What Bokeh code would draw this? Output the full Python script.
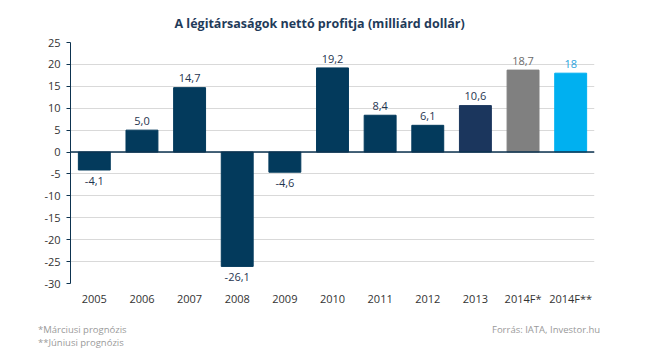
from bokeh.plotting import figure
from bokeh.models import ColumnDataSource, Span, FixedTicker, Range1d, Div
from bokeh.layouts import column
from bokeh.embed import file_html
from bokeh.resources import INLINE

categories = ["2005", "2006", "2007", "2008", "2009", "2010", "2011", "2012", "2013", "2014F*", "2014F**"]
values = [-4.1, 5.0, 14.7, -26.1, -4.6, 19.2, 8.4, 6.1, 10.6, 18.7, 18]
value_labels = ["-4,1", "5,0", "14,7", "-26,1", "-4,6", "19,2", "8,4", "6,1", "10,6", "18,7", "18"]
bar_colors = ["#033a5c"] * 8 + ["#1b365d", "#808080", "#00b0f0"]
label_colors = ["#1f3550"] * 9 + ["#6b6b6b", "#2aa3dd"]
y_ticks = [25, 20, 15, 10, 5, 0, -5, -10, -15, -20, -25, -30]

label_y = [v + 1.2 if v >= 0 else v - 1.6 for v in values]
label_base = ["bottom" if v >= 0 else "top" for v in values]

src = ColumnDataSource(dict(cat=categories, val=values, col=bar_colors,
                            lab=value_labels, ly=label_y, lcol=label_colors, base=label_base))

p = figure(x_range=categories, y_range=Range1d(-30, 25), width=645, height=310,
           output_backend="svg", toolbar_location=None,
           min_border_left=70, min_border_right=51, min_border_top=42, min_border_bottom=27)
p.outline_line_color = None
p.background_fill_color = "white"

p.title.text = "A légitársaságok nettó profitja (milliárd dollár)"
p.title.align = "left"
p.title.offset = 104
p.title.text_font = "Open Sans"
p.title.text_font_size = "12.5px"
p.title.text_font_style = "bold"
p.title.text_color = "#1f3b5a"
p.title.standoff = 21

p.vbar(x="cat", top="val", bottom=0, width=0.67, color="col", source=src)

p.text(x="cat", y="ly", text="lab", text_color="lcol", text_baseline="base", text_align="center",
       text_font_size="11px", text_font={"value": "Open Sans"}, source=src)

p.add_layout(Span(location=0, dimension="width", line_color="#0d3350", line_width=1.5))

p.yaxis.ticker = FixedTicker(ticks=y_ticks)
p.yaxis.major_label_overrides = {t: str(t) for t in y_ticks}
p.yaxis.axis_line_color = "#0d3350"
p.yaxis.major_tick_line_color = "#0d3350"
p.yaxis.major_tick_in = 0
p.yaxis.major_tick_out = 4
p.yaxis.minor_tick_line_color = None
p.yaxis.major_label_text_font = "Open Sans"
p.yaxis.major_label_text_font_size = "11px"
p.yaxis.major_label_text_color = "#333333"
p.yaxis.major_label_standoff = 6

p.xaxis.axis_line_color = None
p.xaxis.major_tick_line_color = None
p.xaxis.minor_tick_line_color = None
p.xaxis.major_tick_in = 0
p.xaxis.major_tick_out = 0
p.xaxis.major_label_text_font = "Open Sans"
p.xaxis.major_label_text_font_size = "11px"
p.xaxis.major_label_text_color = "#333333"
p.xaxis.major_label_standoff = 7

p.xgrid.grid_line_color = None
p.ygrid.ticker = FixedTicker(ticks=y_ticks)
p.ygrid.grid_line_color = "#d9d9d9"

foot = Div(width=645, height=38, text=(
    '<div style="position:relative;width:645px;height:38px;font-family:\'Open Sans\';'
    'font-size:9.5px;color:#9a9a9a;line-height:13px">'
    '<div style="position:absolute;left:33px;top:8px">*Márciusi prognózis</div>'
    '<div style="position:absolute;left:33px;top:21px">**Júniusi prognózis</div>'
    '<div style="position:absolute;left:487px;top:8px">Forrás: IATA, Investor.hu</div>'
    '</div>'))

layout = column(p, foot, spacing=0)
open("out.html", "w").write(file_html(layout, INLINE))
